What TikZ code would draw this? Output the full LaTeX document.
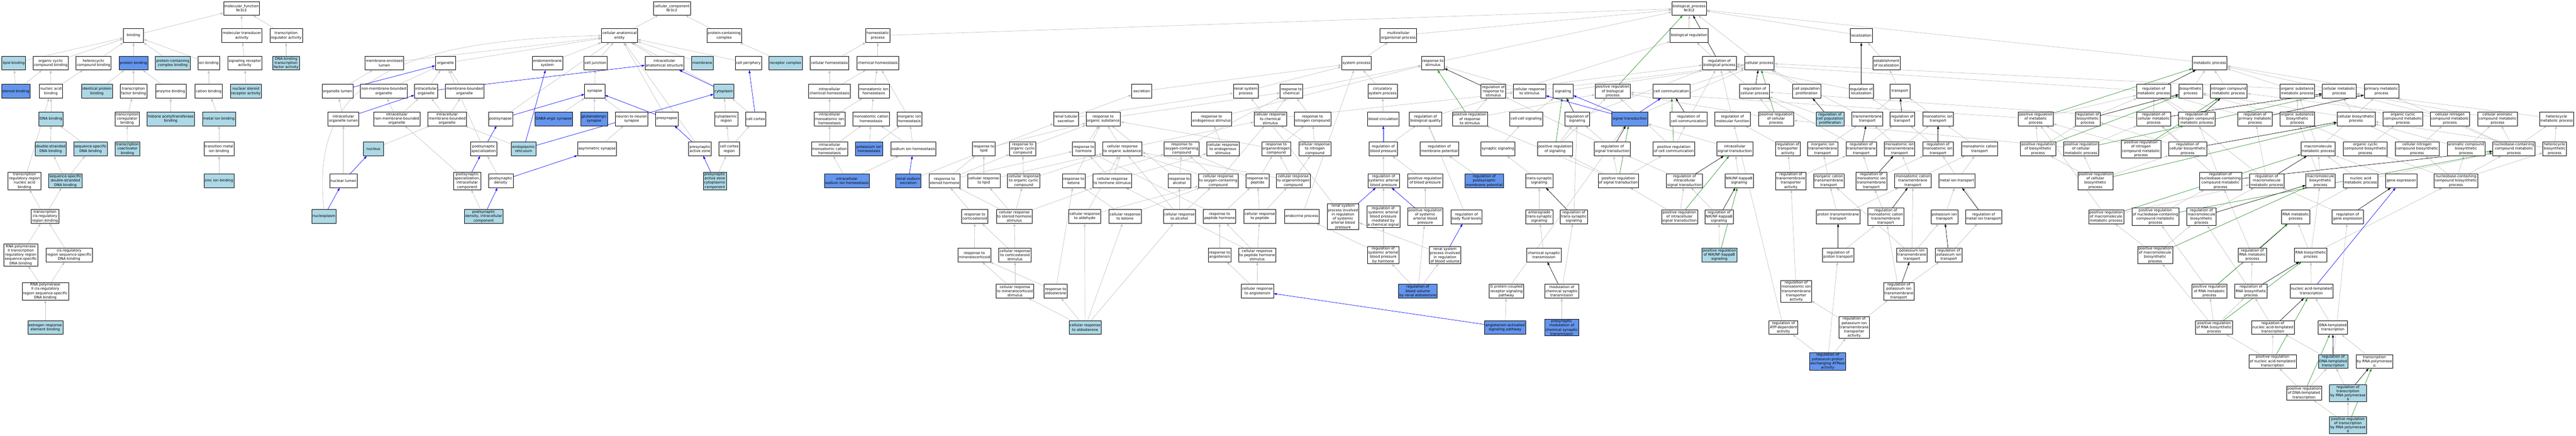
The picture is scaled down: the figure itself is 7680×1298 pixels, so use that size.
\documentclass[tikz,border=0pt]{standalone}
\usepackage{fontspec}
\setmainfont{DejaVu Sans}
\usetikzlibrary{arrows.meta}
\definecolor{lbl}{HTML}{ADD8E6}
\definecolor{cfb}{HTML}{6495ED}
\definecolor{egray}{RGB}{192,192,192}
\definecolor{fgreen}{HTML}{228B22}
\pgfdeclarelayer{bg}\pgfdeclarelayer{edges}\pgfsetlayers{bg,edges,main}
\begin{document}
\begin{tikzpicture}[x=1pt,y=-1pt,
 nd/.style={draw=black,line width=0.9pt,fill=white,align=center,font=\fontsize{10.7}{12.6}\selectfont,minimum width=60pt,minimum height=41pt,inner xsep=2.5pt,inner ysep=2pt},
 nl/.style={nd,fill=lbl}, nc/.style={nd,fill=cfb},
 ge/.style={draw=egray,line width=1pt,-{Triangle[length=9pt,width=6pt]}},
 be/.style={ge,draw=blue},
 ke/.style={ge,draw=black},
 gre/.style={ge,draw=fgreen}]
\useasboundingbox (0,0) rectangle (7680,1298);
\begin{pgfonlayer}{bg}\fill[white] (0,0) rectangle (7680,1298);\end{pgfonlayer}
% ---------------- molecular function
\node[nd] (mf) at (720,25) {molecular\_function\\Nr3c2};
\node[nd] (bind) at (398,106) {binding};
\node[nd] (mta) at (721,106) {molecular transducer\\activity};
\node[nd] (tra) at (853,106) {transcription\\regulator activity};
\node[nl] (lipb) at (41,188) {lipid binding};
\node[nd] (ocb) at (151,188) {organic cyclic\\compound binding};
\node[nd] (hcb) at (279,188) {heterocyclic\\compound binding};
\node[nc] (protb) at (398,188) {protein binding};
\node[nl] (pccb) at (515,188) {protein-containing\\complex binding};
\node[nd] (ionb) at (622,188) {ion binding};
\node[nd] (sra) at (730,188) {signaling receptor\\activity};
\node[nl] (dbtf) at (853,188) {DNA-binding\\transcription\\factor activity};
\node[nc] (sterb) at (47,272) {steroid binding};
\node[nd] (nab) at (152,272) {nucleic acid\\binding};
\node[nl] (idpb) at (289,272) {identical protein\\binding};
\node[nd] (tfb) at (398,272) {transcription\\factor binding};
\node[nd] (enzb) at (509,272) {enzyme binding};
\node[nd] (catb) at (622,272) {cation binding};
\node[nl] (nsra) at (733,272) {nuclear steroid\\receptor activity};
\node[nl] (dnab) at (152,354) {DNA binding};
\node[nd] (tcrb) at (379,354) {transcription\\coregulator\\binding};
\node[nl] (hatb) at (509,354) {histone acetyltransferase\\binding};
\node[nl] (mib) at (653,354) {metal ion binding};
\node[nl] (dsdna) at (151,444) {double-stranded\\DNA binding};
\node[nl] (ssdna) at (270,444) {sequence-specific\\DNA binding};
\node[nl] (tcab) at (380,444) {transcription\\coactivator\\binding};
\node[nd] (tmib) at (653,444) {transition metal\\ion binding};
\node[nd] (trrnab) at (73,539) {transcription\\regulatory region\\nucleic acid\\binding};
\node[nl] (ssds) at (195,539) {sequence-specific\\double-stranded\\DNA binding};
\node[nl] (zib) at (653,539) {zinc ion binding};
\node[nd] (tcrrb) at (134,645) {transcription\\cis-regulatory\\region binding};
\node[nd] (rp2trr) at (62,760) {RNA polymerase\\II transcription\\regulatory region\\sequence-specific\\DNA binding};
\node[nd] (crss) at (206,760) {cis-regulatory\\region sequence-specific\\DNA binding};
\node[nd] (rp2cr) at (135,868) {RNA polymerase\\II cis-regulatory\\region sequence-specific\\DNA binding};
\node[nl] (ereb) at (135,976) {estrogen response\\element binding};
% ---------------- cellular component
\node[nd] (cc) at (2003,25) {cellular\_component\\Nr3c2};
\node[nd] (cae) at (1847,106) {cellular anatomical\\entity};
\node[nd] (pcc) at (2159,106) {protein-containing\\complex};
\node[nd] (mel) at (1146,188) {membrane-enclosed\\lumen};
\node[nd] (org) at (1328,188) {organelle};
\node[nd] (ems) at (1632,188) {endomembrane\\system};
\node[nd] (cj) at (1775,188) {cell junction};
\node[nd] (ias) at (1981,188) {intracellular\\anatomical structure};
\node[nl] (memb) at (2094,188) {membrane};
\node[nd] (cper) at (2231,188) {cell periphery};
\node[nl] (rc) at (2342,188) {receptor complex};
\node[nd] (orgl) at (1006,272) {organelle lumen};
\node[nd] (nmbo) at (1144,272) {non-membrane-bounded\\organelle};
\node[nd] (io) at (1270,272) {intracellular\\organelle};
\node[nd] (mbo) at (1385,272) {membrane-bounded\\organelle};
\node[nd] (syn) at (1773,272) {synapse};
\node[nl] (cyto) at (2158,272) {cytoplasm};
\node[nd] (iol) at (1024,354) {intracellular\\organelle lumen};
\node[nd] (inmbo) at (1183,354) {intracellular\\non-membrane-bounded\\organelle};
\node[nd] (imbo) at (1333,354) {intracellular\\membrane-bounded\\organelle};
\node[nd] (posts) at (1492,354) {postsynapse};
\node[nc] (gaba) at (1651,354) {GABA-ergic synapse};
\node[nc] (glut) at (1771,354) {glutamatergic\\synapse};
\node[nd] (n2n) at (1883,354) {neuron to neuron\\synapse};
\node[nd] (pres) at (1988,354) {presynapse};
\node[nd] (cytr) at (2165,354) {cytoplasmic\\region};
\node[nd] (ccor) at (2253,354) {cell cortex};
\node[nl] (nucl) at (1113,444) {nucleus};
\node[nd] (pss) at (1442,444) {postsynaptic\\specialization};
\node[nl] (er) at (1561,444) {endoplasmic\\reticulum};
\node[nd] (asyn) at (1780,444) {asymmetric synapse};
\node[nd] (paz) at (2087,444) {presynaptic\\active zone};
\node[nd] (ccr) at (2174,444) {cell cortex\\region};
\node[nd] (nlum) at (1024,539) {nuclear lumen};
\node[nd] (pssic) at (1393,539) {postsynaptic\\specialization,\\intracellular\\component};
\node[nd] (psd) at (1493,539) {postsynaptic\\density};
\node[nl] (pazcc) at (2131,539) {presynaptic\\active zone\\cytoplasmic\\component};
\node[nl] (nplasm) at (966,645) {nucleoplasm};
\node[nl] (psdic) at (1442,645) {postsynaptic\\density, intracellular\\component};
% ---------------- homeostasis
\node[nd] (hp) at (2617,106) {homeostatic\\process};
\node[nd] (ch) at (2473,188) {cellular homeostasis};
\node[nd] (chemh) at (2617,188) {chemical homeostasis};
\node[nd] (ich) at (2473,272) {intracellular\\chemical homeostasis};
\node[nd] (mih) at (2605,272) {monoatomic ion\\homeostasis};
\node[nd] (imih) at (2473,354) {intracellular\\monoatomic ion\\homeostasis};
\node[nd] (mch) at (2597,354) {monoatomic cation\\homeostasis};
\node[nd] (iih) at (2711,354) {inorganic ion\\homeostasis};
\node[nd] (imch) at (2473,444) {intracellular\\monoatomic cation\\homeostasis};
\node[nc] (kh) at (2591,444) {potassium ion\\homeostasis};
\node[nd] (nah) at (2723,444) {sodium ion homeostasis};
\node[nc] (inah) at (2525,539) {intracellular\\sodium ion homeostasis};
\node[nc] (rne) at (2708,539) {renal sodium\\excretion};
% ---------------- responses
\node[nd] (exc) at (3404,272) {excretion};
\node[nd] (rsp) at (3714,272) {renal system\\process};
\node[nd] (rchem) at (3850,272) {response to\\chemical};
\node[nd] (rts) at (3178,354) {renal tubular\\secretion};
\node[nd] (ros) at (3289,354) {response to\\organic substance};
\node[nd] (res) at (3612,354) {response to\\endogenous stimulus};
\node[nd] (crcs) at (3787,354) {cellular response\\to chemical\\stimulus};
\node[nd] (rnc) at (3913,354) {response to\\nitrogen compound};
\node[nd] (rlip) at (2933,444) {response to\\lipid};
\node[nd] (rocc) at (3049,444) {response to\\organic cyclic\\compound};
\node[nd] (rhorm) at (3231,444) {response to\\hormone};
\node[nd] (cros) at (3346,444) {cellular response\\to organic substance};
\node[nd] (roxy) at (3523,444) {response to\\oxygen-containing\\compound};
\node[nd] (cres) at (3646,444) {cellular response\\to endogenous\\stimulus};
\node[nd] (ronc) at (3805,444) {response to\\organonitrogen\\compound};
\node[nd] (crnc) at (3920,444) {cellular response\\to nitrogen\\compound};
\node[nd] (rsh) at (2816,539) {response to\\steroid hormone};
\node[nd] (crlip) at (2933,539) {cellular response\\to lipid};
\node[nd] (crocc) at (3052,539) {cellular response\\to organic cyclic\\compound};
\node[nd] (rket) at (3201,539) {response to\\ketone};
\node[nd] (crhs) at (3316,539) {cellular response\\to hormone stimulus};
\node[nd] (ralc) at (3516,539) {response to\\alcohol};
\node[nd] (croxy) at (3632,539) {cellular response\\to oxygen-containing\\compound};
\node[nd] (rpep) at (3749,539) {response to\\peptide};
\node[nd] (cronc) at (3856,539) {cellular response\\to organonitrogen\\compound};
\node[nd] (rcort) at (2906,645) {response to\\corticosteroid};
\node[nd] (crshs) at (3024,645) {cellular response\\to steroid hormone\\stimulus};
\node[nd] (crald) at (3234,645) {cellular response\\to aldehyde};
\node[nd] (crket) at (3354,645) {cellular response\\to ketone};
\node[nd] (cralc) at (3516,645) {cellular response\\to alcohol};
\node[nd] (rph) at (3636,645) {response to\\peptide hormone};
\node[nd] (crpep) at (3756,645) {cellular response\\to peptide};
\node[nd] (endo) at (3881,645) {endocrine process};
\node[nd] (rmin) at (2905,760) {response to\\mineralocorticoid};
\node[nd] (crcort) at (3026,760) {cellular response\\to corticosteroid\\stimulus};
\node[nd] (rang) at (3636,760) {response to\\angiotensin};
\node[nd] (crphs) at (3748,760) {cellular response\\to peptide hormone\\stimulus};
\node[nd] (crmin) at (3026,868) {cellular response\\to mineralocorticoid\\stimulus};
\node[nd] (rald) at (3147,868) {response to\\aldosterone};
\node[nd] (crang) at (3749,868) {cellular response\\to angiotensin};
\node[nl] (craldo) at (3235,976) {cellular response\\to aldosterone};
% ---------------- biological process
\node[nd] (bp) at (5036,25) {biological\_process\\Nr3c2};
\node[nd] (mop) at (4169,106) {multicellular\\organismal process};
\node[nd] (breg) at (5036,106) {biological regulation};
\node[nd] (loc) at (5549,106) {localization};
\node[nd] (sp) at (4044,188) {system process};
\node[nd] (rstim) at (4272,188) {response to\\stimulus};
\node[nd] (rbp) at (5126,188) {regulation of\\biological process};
\node[nd] (cp) at (5245,188) {cellular process};
\node[nd] (eloc) at (5624,188) {establishment\\of localization};
\node[nd] (mp) at (6588,188) {metabolic process};
\node[nd] (csp) at (4122,272) {circulatory\\system process};
\node[nd] (rrs) at (4452,272) {regulation of\\response to\\stimulus};
\node[nd] (crstim) at (4560,272) {cellular response\\to stimulus};
\node[nd] (sig) at (4660,272) {signaling};
\node[nd] (prbp) at (4808,272) {positive regulation\\of biological\\process};
\node[nd] (ccom) at (4983,272) {cell communication};
\node[nd] (rcp) at (5231,272) {regulation of\\cellular process};
\node[nd] (cpp) at (5386,272) {cell population\\proliferation};
\node[nd] (rloc) at (5549,272) {regulation of\\localization};
\node[nd] (trans) at (5664,272) {transport};
\node[nd] (rmp) at (6421,272) {regulation of\\metabolic process};
\node[nd] (bsp) at (6531,272) {biosynthetic\\process};
\node[nd] (ncmp) at (6644,272) {nitrogen compound\\metabolic process};
\node[nd] (osmp) at (6849,272) {organic substance\\metabolic process};
\node[nd] (cmp) at (6974,272) {cellular metabolic\\process};
\node[nd] (pmp) at (7100,272) {primary metabolic\\process};
\node[nd] (bcirc) at (4124,354) {blood circulation};
\node[nd] (rbq) at (4250,354) {regulation of\\biological quality};
\node[nd] (prrs) at (4382,354) {positive regulation\\of response\\to stimulus};
\node[nd] (ccs) at (4550,354) {cell-cell signaling};
\node[nd] (rsig) at (4702,354) {regulation of\\signaling};
\node[nc] (st) at (4859,354) {signal transduction};
\node[nd] (rcc) at (5034,354) {regulation of\\cell communication};
\node[nd] (rmf) at (5165,354) {regulation of\\molecular function};
\node[nd] (prcp) at (5295,354) {positive regulation\\of cellular\\process};
\node[nl] (rcpp) at (5456,354) {regulation of\\cell population\\proliferation};
\node[nd] (tmt) at (5567,354) {transmembrane\\transport};
\node[nd] (rtr) at (5671,354) {regulation of\\transport};
\node[nd] (mit) at (5778,354) {monoatomic ion\\transport};
\node[nd] (prmp) at (6069,354) {positive regulation\\of metabolic\\process};
\node[nd] (rbsp) at (6224,354) {regulation of\\biosynthetic\\process};
\node[nd] (rcmp) at (6421,354) {regulation of\\cellular metabolic\\process};
\node[nd] (rncmp) at (6549,354) {regulation of\\nitrogen compound\\metabolic process};
\node[nd] (rpmp) at (6723,354) {regulation of\\primary metabolic\\process};
\node[nd] (osbp) at (6849,354) {organic substance\\biosynthetic\\process};
\node[nd] (cbp) at (7024,354) {cellular biosynthetic\\process};
\node[nd] (occmp) at (7164,354) {organic cyclic\\compound metabolic\\process};
\node[nd] (cncmp) at (7304,354) {cellular nitrogen\\compound metabolic\\process};
\node[nd] (cacmp) at (7446,354) {cellular aromatic\\compound metabolic\\process};
\node[nd] (hmp) at (7622,354) {heterocycle\\metabolic process};
\node[nd] (rbpress) at (4124,444) {regulation of\\blood pressure};
\node[nd] (rmpot) at (4291,444) {regulation of\\membrane potential};
\node[nd] (ssig) at (4466,444) {synaptic signaling};
\node[nd] (prsig) at (4636,444) {positive regulation\\of signaling};
\node[nd] (rst) at (4807,444) {regulation of\\signal transduction};
\node[nd] (prcc) at (4990,444) {positive regulation\\of cell communication};
\node[nd] (ist) at (5172,444) {intracellular\\signal transduction};
\node[nd] (rta) at (5330,444) {regulation of\\transporter\\activity};
\node[nd] (iitmt) at (5434,444) {inorganic ion\\transmembrane\\transport};
\node[nd] (rtmt) at (5549,444) {regulation of\\transmembrane\\transport};
\node[nd] (mitmt) at (5663,444) {monoatomic ion\\transmembrane\\transport};
\node[nd] (rmit) at (5778,444) {regulation of\\monoatomic ion\\transport};
\node[nd] (mct) at (5902,444) {monoatomic cation\\transport};
\node[nd] (prbsp) at (6076,444) {positive regulation\\of biosynthetic\\process};
\node[nd] (prcmp) at (6204,444) {positive regulation\\of cellular\\metabolic process};
\node[nd] (prncmp) at (6383,444) {positive regulation\\of nitrogen\\compound metabolic\\process};
\node[nd] (rcbp) at (6522,444) {regulation of\\cellular biosynthetic\\process};
\node[nd] (mmp) at (6911,444) {macromolecule\\metabolic process};
\node[nd] (occbp) at (7052,444) {organic cyclic\\compound biosynthetic\\process};
\node[nd] (cncbp) at (7206,444) {cellular nitrogen\\compound biosynthetic\\process};
\node[nd] (acbp) at (7352,444) {aromatic compound\\biosynthetic\\process};
\node[nd] (nccmp) at (7495,444) {nucleobase-containing\\compound metabolic\\process};
\node[nd] (hbp) at (7616,444) {heterocycle\\biosynthetic\\process};
\node[nd] (rsabp) at (4125,539) {regulation of\\systemic arterial\\blood pressure};
\node[nd] (prbpress) at (4249,539) {positive regulation\\of blood pressure};
\node[nc] (rpmpot) at (4425,539) {regulation of\\postsynaptic\\membrane potential};
\node[nd] (tss) at (4589,539) {trans-synaptic\\signaling};
\node[nd] (prst) at (4825,539) {positive regulation\\of signal transduction};
\node[nd] (rist) at (5022,539) {regulation of\\intracellular\\signal transduction};
\node[nd] (nfkb) at (5185,539) {NIK/NF-kappaB\\signaling};
\node[nd] (rtmta) at (5339,539) {regulation of\\transmembrane\\transporter\\activity};
\node[nd] (ictmt) at (5452,539) {inorganic cation\\transmembrane\\transport};
\node[nd] (rmitmt) at (5579,539) {regulation of\\monoatomic ion\\transmembrane\\transport};
\node[nd] (mctmt) at (5703,539) {monoatomic cation\\transmembrane\\transport};
\node[nd] (mitr) at (5834,539) {metal ion transport};
\node[nd] (prcbp) at (6247,539) {positive regulation\\of cellular\\biosynthetic\\process};
\node[nd] (rnccmp) at (6620,539) {regulation of\\nucleobase-containing\\compound metabolic\\process};
\node[nd] (rmmp) at (6758,539) {regulation of\\macromolecule\\metabolic process};
\node[nd] (mbp) at (6918,539) {macromolecule\\biosynthetic\\process};
\node[nd] (namp) at (7038,539) {nucleic acid\\metabolic process};
\node[nd] (gexp) at (7159,539) {gene expression};
\node[nd] (ncbp) at (7322,539) {nucleobase-containing\\compound biosynthetic\\process};
\node[nd] (rsprsabp) at (4004,646) {renal system\\process involved\\in regulation\\of systemic\\arterial blood\\pressure};
\node[nd] (rsabpcs) at (4124,646) {regulation of\\systemic arterial\\blood pressure\\mediated by\\a chemical signal};
\node[nd] (prsabp) at (4249,646) {positive regulation\\of systemic\\arterial blood\\pressure};
\node[nd] (rbfl) at (4372,646) {regulation of\\body fluid levels};
\node[nd] (atss) at (4589,646) {anterograde\\trans-synaptic\\signaling};
\node[nd] (rtss) at (4692,646) {regulation of\\trans-synaptic\\signaling};
\node[nd] (prist) at (5007,646) {positive regulation\\of intracellular\\signal transduction};
\node[nd] (rnfkb) at (5125,646) {regulation of\\NIK/NF-kappaB\\signaling};
\node[nd] (ptmt) at (5480,646) {proton transmembrane\\transport};
\node[nd] (rmctmt) at (5622,646) {regulation of\\monoatomic cation\\transmembrane\\transport};
\node[nd] (kt) at (5797,646) {potassium ion\\transport};
\node[nd] (rmitr) at (5914,646) {regulation of\\metal ion transport};
\node[nd] (prmmp) at (6279,646) {positive regulation\\of macromolecule\\metabolic process};
\node[nd] (prnccmp) at (6426,646) {positive regulation\\of nucleobase-containing\\compound metabolic\\process};
\node[nd] (rmbp) at (6563,646) {regulation of\\macromolecule\\biosynthetic\\process};
\node[nd] (rnamp) at (6844,646) {RNA metabolic\\process};
\node[nd] (rgexp) at (6999,646) {regulation of\\gene expression};
\node[nd] (rsabph) at (4124,760) {regulation of\\systemic arterial\\blood pressure\\by hormone};
\node[nd] (rsprbv) at (4308,760) {renal system\\process involved\\in regulation\\of blood volume};
\node[nd] (cst) at (4603,760) {chemical synaptic\\transmission};
\node[nl] (prnfkb) at (5126,760) {positive regulation\\of NIK/NF-kappaB\\signaling};
\node[nd] (rpt) at (5480,760) {regulation of\\proton transport};
\node[nd] (kitmt) at (5700,760) {potassium ion\\transmembrane\\transport};
\node[nd] (rkt) at (5810,760) {regulation of\\potassium ion\\transport};
\node[nd] (prmbp) at (6425,760) {positive regulation\\of macromolecule\\biosynthetic\\process};
\node[nd] (rrnamp) at (6715,760) {regulation of\\RNA metabolic\\process};
\node[nd] (rnabp) at (6889,760) {RNA biosynthetic\\process};
\node[nc] (rbvra) at (4227,868) {regulation of\\blood volume\\by renal aldosterone};
\node[nd] (gpcr) at (4491,868) {G protein-coupled\\receptor signaling\\pathway};
\node[nd] (mcst) at (4656,868) {modulation of\\chemical synaptic\\transmission};
\node[nd] (rmitmta) at (5355,868) {regulation of\\monoatomic ion\\transmembrane\\transporter\\activity};
\node[nd] (rkitmt) at (5661,868) {regulation of\\potassium ion\\transmembrane\\transport};
\node[nd] (prrnamp) at (6587,868) {positive regulation\\of RNA metabolic\\process};
\node[nd] (rrnabp) at (6711,868) {regulation of\\RNA biosynthetic\\process};
\node[nd] (natt) at (6891,868) {nucleic acid-templated\\transcription};
\node[nc] (aasp) at (4487,976) {angiotensin-activated\\signaling pathway};
\node[nc] (pmcst) at (4656,976) {presynaptic\\modulation of\\chemical synaptic\\transmission};
\node[nd] (ratp) at (5317,976) {regulation of\\ATP-dependent\\activity};
\node[nd] (rkitmta) at (5528,976) {regulation of\\potassium ion\\transmembrane\\transporter\\activity};
\node[nd] (prrnabp) at (6601,976) {positive regulation\\of RNA biosynthetic\\process};
\node[nd] (rnatt) at (6776,976) {regulation of\\nucleic acid-templated\\transcription};
\node[nd] (dtt) at (6955,976) {DNA-templated\\transcription};
\node[nc] (rkpatp) at (5449,1077) {regulation of\\potassium:proton\\exchanging ATPase\\activity};
\node[nd] (prnatt) at (6775,1077) {positive regulation\\of nucleic acid-templated\\transcription};
\node[nl] (rdtt) at (6956,1077) {regulation of\\DNA-templated\\transcription};
\node[nd] (trp2) at (7079,1077) {transcription\\by RNA polymerase\\II};
\node[nd] (prdtt) at (6869,1172) {positive regulation\\of DNA-templated\\transcription};
\node[nl] (rtrp2) at (7000,1172) {regulation of\\transcription\\by RNA polymerase\\II};
\node[nl] (prtrp2) at (7000,1267) {positive regulation\\of transcription\\by RNA polymerase\\II};
% ---------------- edges
\begin{pgfonlayer}{edges}
\foreach \a/\b in {bind/mf,mta/mf,tra/mf,lipb/bind,ocb/bind,hcb/bind,protb/bind,pccb/bind,ionb/bind,sra/mta,dbtf/tra,sterb/lipb,sterb/ocb,nab/ocb,nab/hcb,idpb/protb,tfb/protb,enzb/protb,catb/ionb,nsra/sra,dnab/nab,tcrb/tfb,hatb/enzb,mib/catb,dsdna/dnab,ssdna/dnab,tcab/tcrb,tmib/mib,trrnab/nab,ssds/dsdna,ssds/ssdna,zib/tmib,tcrrb/trrnab,tcrrb/ssds,rp2trr/tcrrb,crss/tcrrb,rp2cr/rp2trr,rp2cr/crss,ereb/rp2cr}
  \draw[ge] (\a) -- (\b);
\foreach \a/\b in {cae/cc,pcc/cc,mel/cae,org/cae,ems/cae,cj/cae,ias/cae,memb/cae,cper/cae,cyto/cae,rc/pcc,orgl/mel,nmbo/org,mbo/org,io/org,iol/orgl,inmbo/nmbo,inmbo/io,imbo/mbo,imbo/io,syn/cj,gaba/syn,glut/syn,n2n/syn,cytr/cyto,ccor/cyto,nucl/imbo,er/imbo,asyn/n2n,ccr/cytr,ccr/ccor,nlum/iol,pssic/inmbo,psd/pss,psdic/pssic,pazcc/ccr,posts/cae,pres/cae,paz/cae,pss/org}
  \draw[ge] (\a) -- (\b);
\draw[ge] (nplasm.north) .. controls (925,260) and (1150,120) .. (cae.west);
\foreach \a/\b in {orgl/org,iol/io,io/ias,cyto/ias,ccor/cper,posts/syn,pres/syn,pss/posts,er/ems,er/cyto,paz/pres,pssic/pss,psd/asyn,psdic/psd,pazcc/paz,nlum/nucl,nplasm/nlum}
  \draw[be] (\a) -- (\b);
\foreach \a/\b in {hp/bp,ch/hp,chemh/hp,ich/ch,ich/chemh,mih/chemh,imih/ich,imih/mih,mch/mih,iih/chemh,imch/imih,imch/mch,kh/mch,kh/iih,nah/mch,nah/iih,inah/imch,inah/nah,rne/rts}
  \draw[ge] (\a) -- (\b);
\draw[be] (rne) -- (nah);
\foreach \a/\b in {exc/sp,rsp/sp,rchem/rstim,rts/exc,rts/rsp,ros/rchem,res/rstim,crcs/rchem,crcs/crstim,rnc/rchem,rlip/ros,rocc/ros,rhorm/ros,cros/ros,cros/crcs,roxy/rchem,cres/res,ronc/ros,ronc/rnc,crnc/rnc,crnc/crcs,rsh/rlip,rsh/rocc,rsh/rhorm,crlip/rlip,crlip/cros,crocc/rocc,crocc/cros,rket/roxy,rket/ros,crhs/rhorm,crhs/cros,crhs/cres,ralc/roxy,ralc/ros,croxy/roxy,croxy/crcs,croxy/cros,rpep/ronc,rpep/roxy,cronc/ronc,cronc/crnc,cronc/cros}
  \draw[ge] (\a) -- (\b);
\foreach \a/\b in {rcort/rsh,crshs/rsh,crshs/crlip,crshs/crocc,crshs/crhs,crald/cros,crald/croxy,crket/rket,crket/croxy,cralc/ralc,cralc/croxy,cralc/cros,rph/rpep,rph/rhorm,crpep/rpep,crpep/cronc,rmin/rcort,crcort/rcort,crcort/crshs,rang/rph,crphs/rph,crphs/crpep,crphs/crhs,crmin/rmin,crmin/crcort,rald/rmin,rald/rket,crang/rang,crang/crphs,craldo/crmin,craldo/rald,craldo/crald,craldo/crket,craldo/cralc,endo/sp,rsprsabp/rsp}
  \draw[ge] (\a) -- (\b);
\foreach \a/\b in {mop/bp,rstim/bp,breg/bp,cp/bp,loc/bp,mp/bp,sp/mop,rbp/breg,csp/sp,rrs/rbp,crstim/rstim,crstim/cp,sig/cp,ccom/cp,bcirc/csp,rbq/breg,prrs/rrs,prrs/prbp,ccs/sig,rsig/rbp,rcc/rbp,rmf/rbp,st/cp,ssig/ccs,prsig/rsig,prsig/prbp,rst/rsig,rst/rrs,prcc/rcc,prcc/prbp,ist/st,rbpress/rbq,rmpot/rbq,rsabp/rbpress,prbpress/rbpress,rpmpot/rmpot,tss/ssig,prst/rst,prst/prsig,prst/prcc,prst/prrs,rist/rst,rsabpcs/rsabp,rbfl/rbq,atss/tss,rtss/rsig,prist/rist,prist/prst,rnfkb/rist,nfkb/ist,prnfkb/rnfkb}
  \draw[ge] (\a) -- (\b);
\foreach \a/\b in {rsabph/endo,rsabph/rsabpcs,rsprbv/rsprsabp,rbvra/rsabph,rbvra/rsprbv,rbvra/prsabp,gpcr/st,aasp/gpcr,cst/atss,mcst/rtss,pmcst/mcst,prsabp/prbpress,rloc/rbp,eloc/loc,trans/eloc,prcp/prbp,prcp/rcp,rcp/rbp,cpp/cp,rcpp/rcp,tmt/trans,tmt/cp,rtr/rloc,mit/trans,rta/rmf,iitmt/tmt,rtmt/rtr,rtmt/rcp,mitmt/tmt,mitmt/mit,rmit/rtr,mct/mit,rtmta/rta,rtmta/rtmt,ictmt/iitmt,rmitmt/rtmt,rmitmt/rmit,mctmt/mitmt,mctmt/mct,mitr/mct,rmitr/rmit,kt/mitr,ptmt/ictmt,ptmt/mctmt,rmctmt/rmitmt,rpt/rmctmt,kitmt/kt,kitmt/mctmt,kitmt/ictmt,rkt/rmitr,rmitmta/rtmta,rkitmt/rkt,rkitmt/rmctmt,ratp/rmf,rkitmta/rmitmta,rkitmta/rkitmt,rkpatp/ratp,rkpatp/rkitmta,rkpatp/rpt}
  \draw[ge] (\a) -- (\b);
\foreach \a/\b in {rmp/rbp,bsp/mp,ncmp/mp,osmp/mp,cmp/mp,cmp/cp,pmp/mp,prmp/rmp,prmp/prbp,rbsp/rmp,rcmp/rmp,rcmp/rcp,rncmp/rmp,rpmp/rmp,osbp/osmp,osbp/bsp,cbp/bsp,cbp/cmp,occmp/osmp,cncmp/ncmp,cncmp/cmp,cacmp/cmp,hmp/cmp,prbsp/prmp,prbsp/rbsp,prcmp/prmp,prcmp/rcmp,prcmp/prcp,prncmp/prmp,prncmp/rncmp,rcbp/rbsp,rcbp/rcmp,mmp/osmp,mmp/pmp,occbp/occmp,occbp/osbp,cncbp/cncmp,cncbp/cbp,acbp/cacmp,acbp/cbp,nccmp/cacmp,nccmp/hmp,nccmp/cncmp,nccmp/pmp,hbp/hmp,hbp/cbp}
  \draw[ge] (\a) -- (\b);
\foreach \a/\b in {prcbp/prbsp,prcbp/prcmp,prcbp/rcbp,rnccmp/rcmp,rnccmp/rncmp,rmmp/rmp,rmmp/rpmp,mbp/mmp,mbp/osbp,namp/mmp,namp/nccmp,gexp/mmp,ncbp/nccmp,ncbp/acbp,ncbp/cncbp,ncbp/occbp,ncbp/hbp,prmmp/prmp,prmmp/rmmp,prnccmp/rnccmp,rmbp/rmmp,rnamp/namp,rgexp/rmmp,prmbp/rmbp,prmbp/prmmp,rrnamp/rnccmp,rnabp/rnamp,rnabp/mbp,rnabp/ncbp,prrnamp/rrnamp,prrnamp/prnccmp,rrnabp/rrnamp,rrnabp/rmbp,natt/rnabp,prrnabp/prrnamp,prrnabp/rrnabp,prrnabp/prmbp,rnatt/rrnabp,dtt/natt,prnatt/prrnabp,prnatt/rnatt,rdtt/rnatt,rdtt/rgexp,trp2/dtt,prdtt/prnatt,prdtt/rdtt,rtrp2/rdtt,prtrp2/prdtt,prtrp2/rtrp2}
  \draw[ge] (\a) -- (\b);
\foreach \a/\b in {rbp/bp,rrs/rstim,rsig/sig,rcc/ccom,rst/st,rist/ist,rtss/tss,mcst/cst,rnfkb/nfkb,rcp/cp,rloc/loc,rcpp/cpp,rtr/trans,rtmt/tmt,rmit/mit,rmitmt/mitmt,rmctmt/mctmt,rmitr/mitr,rpt/ptmt,rkt/kt,rkitmt/kitmt,rmp/mp,rbsp/bsp,rcmp/cmp,rncmp/ncmp,rpmp/pmp,rcbp/cbp,rmmp/mmp,rnccmp/nccmp,rmbp/mbp,rgexp/gexp,rrnamp/rnamp,rrnabp/rnabp,rnatt/natt,rdtt/dtt,rtrp2/trp2}
  \draw[ke] (\a) -- (\b);
\foreach \a/\b in {prbp/bp,prrs/rstim,prsig/sig,prcc/ccom,prst/st,prist/ist,prnfkb/nfkb,prcp/cp,prmp/mp,prbsp/bsp,prcmp/cmp,prncmp/ncmp,prcbp/cbp,prmmp/mmp,prnccmp/nccmp,prmbp/mbp,prrnamp/rnamp,prrnabp/rnabp,prnatt/natt,prdtt/dtt,prtrp2/trp2}
  \draw[gre] (\a) -- (\b);
\foreach \a/\b in {rbpress/bcirc,rsprsabp/rsabp,prsabp/rsabp,rsprbv/rbfl,st/crstim,st/sig,st/ccom,natt/gexp,aasp/crang}
  \draw[be] (\a) -- (\b);
\end{pgfonlayer}
\end{tikzpicture}
\end{document}
